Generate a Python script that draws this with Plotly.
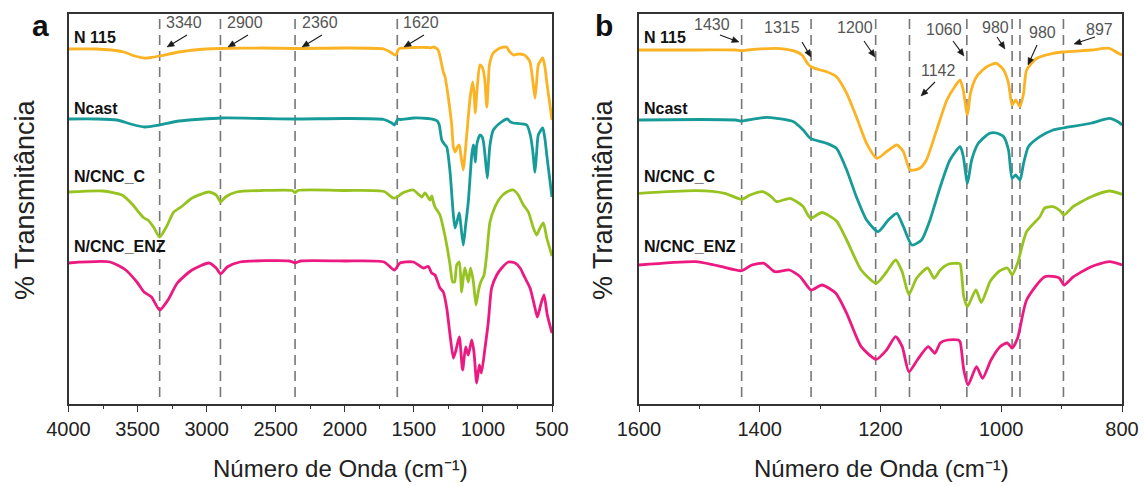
import math
import plotly.graph_objects as go

# ---------------- spectra: full range (panel a) ----------------
# offset transmittance in arbitrary units (each spectrum stacked)
wn_a_n115 = [4000, 3800, 3690, 3600, 3520, 3453, 3400, 3340, 3200, 3000, 2900, 2600, 2360, 2000,
             1717, 1660, 1637, 1625, 1615, 1600, 1500, 1400, 1380, 1360, 1330, 1316, 1287, 1274,
             1250, 1226, 1214, 1200, 1185, 1171, 1160, 1142, 1130, 1117, 1093, 1074, 1065, 1055,
             1048, 1041, 1022, 1010, 995, 985, 972, 962, 953, 925, 876, 828, 815, 804, 780, 740,
             700, 683, 659, 640, 623, 610, 599, 567, 550, 538, 520, 502, 500]
t_a_n115 = [355, 355, 354, 352, 348, 346, 346.5, 348, 352, 355, 355.5, 356, 355.5, 356,
            355, 351, 349, 350, 354, 355.7, 356.5, 356.5, 356, 357, 355, 350.7, 332, 327,
            306, 279, 257, 252, 257, 259, 249, 234, 249, 269, 306, 322, 312, 291,
            304, 317, 339, 338, 332, 322, 297, 319, 339, 351, 356, 357, 354, 352, 349, 350,
            349, 347, 342, 324, 306, 324, 339, 346, 336, 322, 304, 286, 284]

wn_a_ncast = [4000, 3800, 3650, 3550, 3450, 3340, 3200, 2893, 2600, 2360, 2000, 1717, 1660, 1640,
              1615, 1600, 1500, 1400, 1360, 1330, 1316, 1298, 1280, 1262, 1238, 1214, 1202, 1185,
              1171, 1160, 1142, 1125, 1106, 1081, 1070, 1065, 1055, 1045, 1022, 1005, 995, 985,
              968, 958, 949, 925, 876, 823, 800, 780, 683, 657, 640, 623, 610, 599, 567, 550,
              538, 520, 502, 500]
t_a_ncast = [285, 285, 284, 280, 277, 279, 283, 286, 285.5, 285, 285.5, 284.5, 281, 279,
             285, 284.5, 286, 285.5, 284.7, 283, 279, 264, 260, 257, 232, 189, 176, 184,
             191, 179, 159, 179, 202, 249, 259, 257, 242, 259, 269, 267, 261, 249,
             226, 244, 259, 274, 281, 285, 282, 281, 279, 269, 254, 232, 254, 269, 276, 264,
             249, 229, 209, 207]

wn_a_cncc = [4000, 3750, 3613, 3533, 3493, 3453, 3425, 3385, 3340, 3292, 3238, 3185, 3105, 2984,
             2931, 2899, 2864, 2784, 2600, 2380, 2360, 2340, 2000, 1716, 1649, 1620, 1582, 1504,
             1443, 1420, 1407, 1383, 1370, 1359, 1347, 1311, 1287, 1262, 1238, 1219, 1205, 1190,
             1171, 1154, 1140, 1130, 1106, 1089, 1069, 1050, 1034, 1016, 992, 973, 949, 913,
             876, 828, 780, 744, 707, 671, 635, 611, 587, 562, 538, 502, 500]
t_a_cncc = [212, 213, 209, 199, 192, 186, 184, 177, 167, 177, 192, 197, 206, 212,
            209, 202, 207, 212, 213.5, 213.5, 211.3, 213.5, 213.5, 212.5, 206, 207, 211, 214,
            207, 211, 209, 204, 208, 202, 197, 189, 176, 159, 139, 122, 122, 139,
            142, 112, 129, 136, 122, 136, 122, 99, 112, 122, 129, 149, 182, 197,
            206, 212, 214, 209, 199, 192, 176, 169, 176, 181, 166, 149, 148]

wn_a_cncenz = [4000, 3700, 3586, 3505, 3453, 3399, 3340, 3280, 3212, 3106, 2984, 2931, 2899, 2851,
               2759, 2400, 2360, 2320, 2000, 1716, 1640, 1600, 1504, 1432, 1395, 1371, 1347, 1311,
               1287, 1262, 1238, 1214, 1195, 1171, 1147, 1125, 1106, 1081, 1065, 1045, 1026, 1011,
               985, 961, 937, 900, 864, 816, 767, 731, 695, 659, 623, 606, 582, 558, 534, 502, 500]
t_a_cncenz = [141, 142, 134, 122, 112, 107, 94, 104, 121, 134, 141, 136, 130, 137,
              142, 143, 141, 143, 143, 142, 134, 141, 142, 136, 137.5, 131, 129, 116,
              112, 96, 69, 46, 54, 67, 34, 57, 49, 64, 52, 21, 39, 31,
              56, 82, 116, 129, 136, 142, 141, 136, 126, 116, 96, 87, 99, 109, 89, 72, 71]

# ---------------- spectra: 1600-800 cm-1 detail (panel b) ----------------
wn_b_n115 = [1600, 1500, 1440, 1430, 1420, 1375, 1345, 1330, 1321, 1315, 1300, 1289, 1273, 1256,
             1240, 1223, 1206, 1190, 1173, 1162, 1151, 1135, 1124, 1107, 1090, 1077, 1068, 1063,
             1056, 1051, 1041, 1024, 1008, 996, 988, 982, 976, 969, 963, 958, 941, 914, 898,
             850, 821, 806, 800]
t_b_n115 = [354, 354, 354, 353.3, 354, 355.7, 353.3, 349, 340.7, 337.3, 334, 332.3, 327.3, 310.7,
            287.3, 260.7, 245.7, 252.3, 259, 252.3, 234, 235.7, 244, 274, 304, 317.3, 324, 314,
            289, 310.7, 327.3, 337.3, 340.7, 334, 320.7, 299, 304, 297.3, 310.7, 334, 345.7, 350.7, 352,
            354, 355.7, 350.7, 349]

wn_b_ncast = [1600, 1500, 1440, 1430, 1420, 1387, 1344, 1328, 1316, 1289, 1273, 1256, 1240, 1223,
              1204, 1187, 1173, 1162, 1148, 1132, 1118, 1101, 1085, 1068, 1063, 1056, 1049, 1038,
              1019, 1008, 996, 988, 982, 976, 969, 963, 955, 936, 914, 898, 850, 821, 806, 800]
t_b_ncast = [284, 284.5, 284, 283, 284, 286.7, 282.3, 274, 265.7, 260.7, 255.7, 234, 207.3, 184,
             172.3, 184, 190.7, 177.3, 159, 164, 184, 217.3, 244, 257.3, 248, 220.7, 244, 260.7,
             270.7, 271, 267.3, 254, 225.7, 229, 224, 240.7, 257.3, 267.3, 274, 276, 281, 285.7, 282, 279]

wn_b_cncc = [1600, 1506, 1458, 1430, 1416, 1395, 1381, 1372, 1350, 1333, 1328, 1316, 1297, 1273,
             1256, 1232, 1207, 1190, 1175, 1164, 1153, 1140, 1122, 1111, 1101, 1087, 1071, 1068,
             1062, 1056, 1042, 1033, 1018, 1003, 990, 986, 982, 973, 958, 936, 928, 914, 904,
             896, 881, 851, 821, 800]
t_b_cncc = [210.7, 213.3, 210.7, 204.7, 209, 212.3, 207.3, 202.3, 205.7, 200, 197.3, 185.7, 191.5, 183,
            164, 134, 120.7, 132, 144, 132, 109.5, 126, 136, 125.7, 134, 140, 140.7, 140,
            107.3, 97.3, 114, 101.5, 123, 133, 136, 133, 129, 140.7, 172.3, 187.3, 196, 197.3, 194,
            189, 197.3, 207.3, 213, 209.7]

wn_b_cncenz = [1600, 1506, 1476, 1463, 1430, 1413, 1393, 1375, 1351, 1333, 1315, 1297, 1274, 1256,
               1232, 1207, 1190, 1175, 1164, 1153, 1139, 1121, 1110, 1101, 1089, 1071, 1068, 1062,
               1055, 1041, 1031, 1017, 1002, 990, 982, 973, 958, 928, 904, 896, 881, 851, 821, 800]
t_b_cncenz = [139, 142.3, 139, 137.3, 133.3, 139, 140.7, 132.3, 134, 127.3, 114, 119, 110.7, 90.7,
              57.3, 44.7, 54, 67.3, 57.3, 32.3, 44, 57.3, 50.7, 61, 64, 64, 62, 34,
              19, 37.3, 25.7, 44, 57.3, 61, 56, 65.7, 104, 127.3, 126, 119, 127, 137.3, 142.3, 139]

sample_names = ["N 115", "Ncast", "N/CNC_C", "N/CNC_ENZ"]
colors = ["#FBB323", "#179B99", "#97C321", "#EC1A80"]

# marked bands (cm-1)
bands_a = [3340, 2900, 2360, 1620]
bands_b = [1430, 1315, 1208, 1152, 1057, 982, 969, 897]

panel_a = [(wn_a_n115, t_a_n115), (wn_a_ncast, t_a_ncast), (wn_a_cncc, t_a_cncc), (wn_a_cncenz, t_a_cncenz)]
panel_b = [(wn_b_n115, t_b_n115), (wn_b_ncast, t_b_ncast), (wn_b_cncc, t_b_cncc), (wn_b_cncenz, t_b_cncenz)]

W, H = 1144, 486
TOP, BOTTOM = 14, 404
XA = (68.5, 552)
XB = (639, 1122)


def px(x):
    return x / W


def py(y):
    return (H - y) / H


fig = go.Figure()

for (wn, t), name, c in zip(panel_a, sample_names, colors):
    fig.add_trace(go.Scatter(x=wn, y=t, mode="lines", name=name, xaxis="x", yaxis="y",
                             line=dict(color=c, width=2.8, shape="spline", smoothing=0.6),
                             showlegend=False))
for (wn, t), name, c in zip(panel_b, sample_names, colors):
    fig.add_trace(go.Scatter(x=wn, y=t, mode="lines", name=name, xaxis="x2", yaxis="y2",
                             line=dict(color=c, width=2.8, shape="spline", smoothing=0.6),
                             showlegend=False))

shapes = []
dash_style = dict(color="#777777", width=1.6, dash="10px,6px")
for b in bands_a:
    shapes.append(dict(type="line", xref="x", yref="y domain", x0=b, x1=b, y0=0.018, y1=1,
                       line=dash_style, layer="below"))
for b in bands_b:
    shapes.append(dict(type="line", xref="x2", yref="y2 domain", x0=b, x1=b, y0=0.018, y1=1,
                       line=dash_style, layer="below"))

ann = []
label_font = dict(family="Liberation Sans, Arial, sans-serif", size=16, color="#555555")

# band labels with pointer arrows: (text, text x, text y, tail x, tail y, head x, head y) in px
band_notes = [
    ("3340", 184, 23, 187, 35, 167, 47),
    ("2900", 245, 23, 248, 35, 228, 47),
    ("2360", 320, 23, 322, 35, 302, 47),
    ("1620", 421, 23, 424, 35, 404, 47),
    ("1430", 712, 24, 720, 35, 739, 42),
    ("1315", 782, 28, 802, 42, 811, 57),
    ("1200", 855, 28, 864, 41, 875, 57),
    ("1142", 938, 70, 935, 82, 921, 96),
    ("1060", 944, 29, 953, 41, 964, 56),
    ("980", 995, 28, 997, 37, 1005, 49),
    ("980", 1042, 32, 1037, 45, 1028, 65),
    ("897", 1099, 29, 1095, 37, 1074, 44),
]


def arrow_shapes(x0, y0, x1, y1, head_len=7.0, half_w=3.0):
    dx, dy = x1 - x0, y1 - y0
    L = math.hypot(dx, dy)
    ux, uy = dx / L, dy / L
    nx, ny = -uy, ux
    bx, by = x1 - head_len * ux, y1 - head_len * uy
    shaft = dict(type="line", xref="paper", yref="paper", x0=px(x0), y0=py(y0),
                 x1=px(bx + ux), y1=py(by + uy), line=dict(color="#1a1a1a", width=1.1))
    path = "M %.5f %.5f L %.5f %.5f L %.5f %.5f Z" % (
        px(x1), py(y1), px(bx + half_w * nx), py(by + half_w * ny),
        px(bx - half_w * nx), py(by - half_w * ny))
    head = dict(type="path", xref="paper", yref="paper", path=path,
                fillcolor="#1a1a1a", line=dict(color="#1a1a1a", width=0.5))
    return [shaft, head]


for txt, tx, ty, x0, y0, x1, y1 in band_notes:
    ann.append(dict(text=txt, x=px(tx), y=py(ty), xref="paper", yref="paper", showarrow=False,
                    font=label_font, xanchor="center", yanchor="middle"))
    shapes.extend(arrow_shapes(x0, y0, x1, y1))

# sample names
name_font = dict(family="Liberation Sans, Arial, sans-serif", size=16, color="#111111")
name_y = [38, 108, 177, 247]
for x0 in (XA[0] + 3.5, XB[0] + 3):
    for nm, yy in zip(sample_names, name_y):
        ann.append(dict(text="<b>%s</b>" % nm, x=px(x0), y=py(yy), xref="paper", yref="paper",
                        showarrow=False, font=name_font, xanchor="left", yanchor="middle"))

# panel letters
for letter, lx in (("a", 40), ("b", 604)):
    ann.append(dict(text="<b>%s</b>" % letter, x=px(lx), y=py(26), xref="paper", yref="paper",
                    showarrow=False, font=dict(family="Liberation Sans, Arial, sans-serif", size=30,
                                               color="#111111"),
                    xanchor="center", yanchor="middle"))

# axis titles
title_font = dict(family="Liberation Sans Narrow, Liberation Sans, Arial, sans-serif", size=24,
                  color="#222222")
for cx in (340, 881):
    ann.append(dict(text="Número de Onda (cm⁻¹)", x=px(cx), y=py(468), xref="paper",
                    yref="paper", showarrow=False, font=title_font, xanchor="center",
                    yanchor="middle"))
for cx in (25, 603):
    ann.append(dict(text="% Transmitância", x=px(cx), y=py(200), xref="paper", yref="paper",
                    showarrow=False, textangle=-90,
                    font=dict(family="Liberation Sans, Arial, sans-serif", size=27, color="#222222"),
                    xanchor="center", yanchor="middle"))

axis_common = dict(showline=True, mirror=True, linecolor="#333333", linewidth=1.7,
                   showgrid=False, zeroline=False, automargin=False)
tick_font = dict(family="Liberation Sans Narrow, Liberation Sans, Arial, sans-serif", size=20,
                 color="#222222")

fig.update_layout(
    width=W, height=H, autosize=False,
    margin=dict(l=0, r=0, t=0, b=0, autoexpand=False),
    paper_bgcolor="white", plot_bgcolor="white",
    xaxis=dict(domain=[px(XA[0]), px(XA[1])], range=[4000, 500], anchor="y",
               tickmode="linear", tick0=500, dtick=500, ticks="outside", ticklen=6, tickwidth=1.3,
               tickcolor="#333333", tickfont=tick_font,
               minor=dict(ticks="outside", ticklen=3.5, dtick=250, tickcolor="#333333", showgrid=False),
               **axis_common),
    yaxis=dict(domain=[py(BOTTOM), py(TOP)], range=[0, 390], anchor="x", showticklabels=False,
               ticks="", **axis_common),
    xaxis2=dict(domain=[px(XB[0]), px(XB[1])], range=[1600, 800], anchor="y2",
                tickmode="linear", tick0=800, dtick=200, ticks="outside", ticklen=6, tickwidth=1.3,
                tickcolor="#333333", tickfont=tick_font,
                minor=dict(ticks="outside", ticklen=3.5, dtick=100, tickcolor="#333333", showgrid=False),
                **axis_common),
    yaxis2=dict(domain=[py(BOTTOM), py(TOP)], range=[0, 390], anchor="x2", showticklabels=False,
                ticks="", **axis_common),
    shapes=shapes,
    annotations=ann,
)

fig.write_html("out.html")
